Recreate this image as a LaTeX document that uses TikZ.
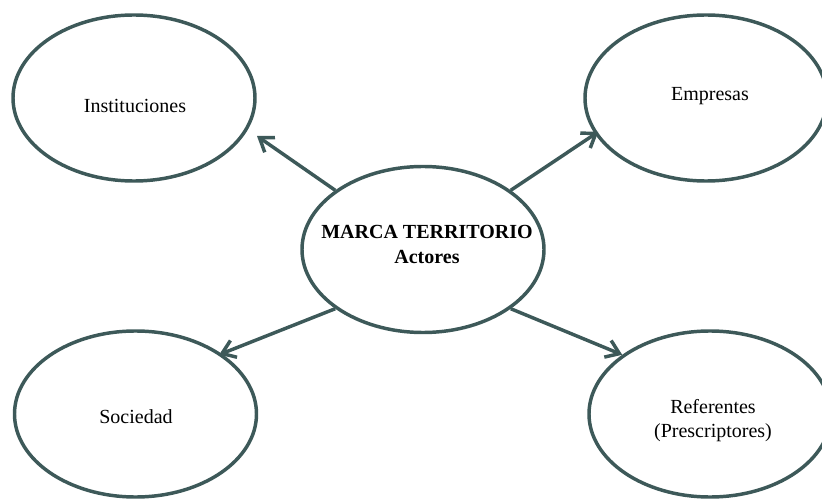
\documentclass[tikz,border=0pt]{standalone}
\usepackage{fontspec}
\setmainfont{Liberation Serif}
\usetikzlibrary{arrows.meta,shapes.geometric}
\definecolor{slate}{RGB}{61,89,89}
\begin{document}
\begin{tikzpicture}[x=0.75pt,y=-0.75pt,
  actor/.style={ellipse, draw=slate, line width=2.6pt, fill=white,
    minimum width=181.5pt, minimum height=124.5pt, inner sep=0pt},
  txt/.style={font=\fontsize{15}{18}\selectfont, anchor=base, align=center, inner sep=0pt},
  hub/.style={font=\fontsize{15}{18.75}\selectfont\bfseries, anchor=base, align=center, inner sep=0pt},
  link/.style={draw=slate, line width=2.6pt, -{Straight Barb[length=9.5pt,width=13.5pt]}}
]
\useasboundingbox (0,0) rectangle (822,499);
\clip (0,0) rectangle (822,499);

% actor ellipses
\node[actor] (c)    at (423,249.5) {};
\node[actor] (inst) at (134,98)    {};
\node[actor] (emp)  at (706,98)    {};
\node[actor] (soc)  at (135.5,414) {};
\node[actor] (ref)  at (710,414)   {};

% labels (base anchor sits on the last line)
\node[hub] (c-t)    at (427,264) {MARCA TERRITORIO\\Actores};
\node[txt] (inst-t) at (135,113) {Instituciones};
\node[txt] (emp-t)  at (710,101) {Empresas};
\node[txt] (soc-t)  at (136,423) {Sociedad};
\node[txt] (ref-t)  at (713,437) {Referentes\\(Prescriptores)};

% connectors from the hub
\coordinate (inst-tip) at (257,136);
\draw[link] (c.146) -- (inst-tip);
\draw[link, shorten >=-3pt] (c.34) -- (emp.198);
\draw[link, shorten >=-2pt] (c.214) -- (soc.35);
\draw[link] (c.-34) -- (ref.146);
\end{tikzpicture}
\end{document}
